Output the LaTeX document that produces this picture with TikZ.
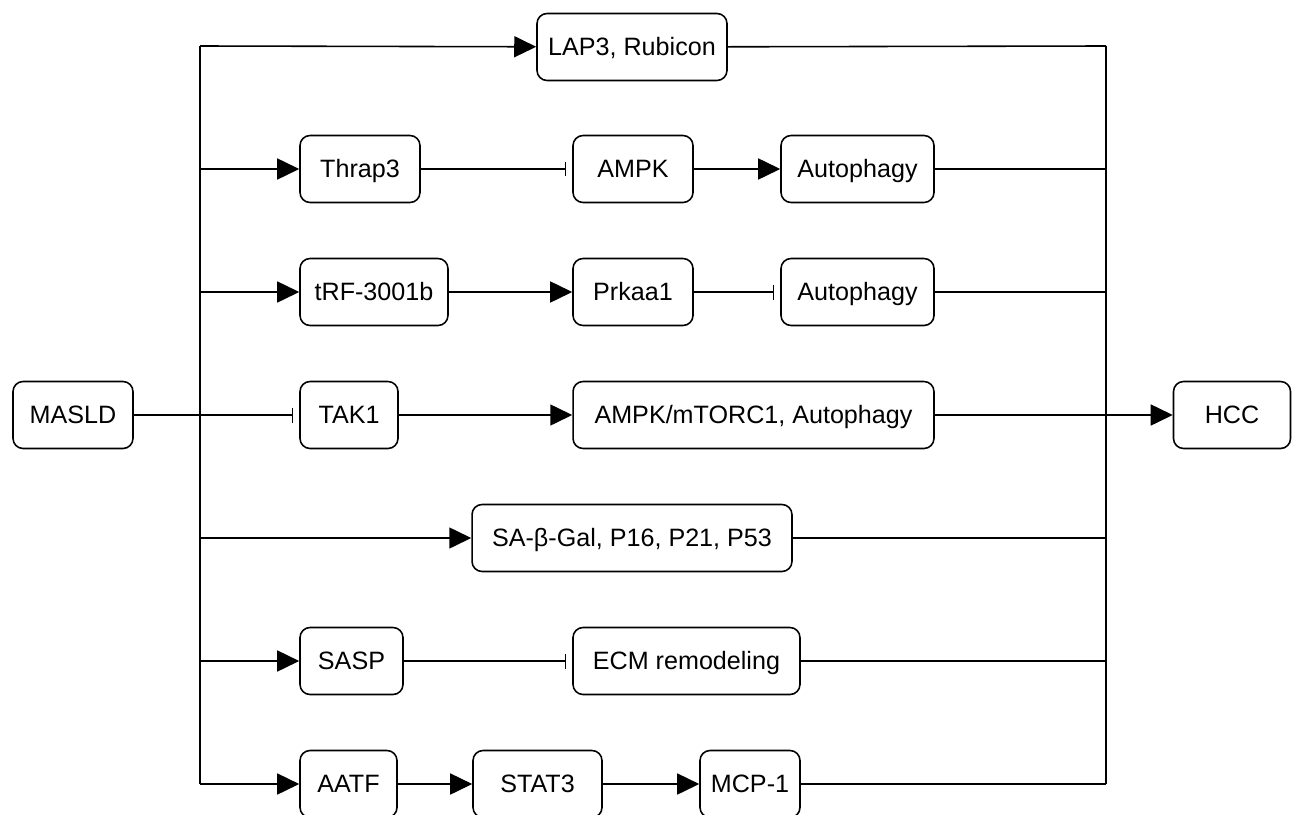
\documentclass[tikz,border=0pt]{standalone}
\usepackage{fontspec}
\setmainfont{Liberation Sans}
\usepackage{tikz}
\usetikzlibrary{positioning,arrows.meta}

\begin{document}
\begin{tikzpicture}[x=0.02cm,y=-0.02cm,line width=0.9pt,
    box/.style={draw,rounded corners=0.2cm,minimum height=1.34cm,inner sep=0pt,text height=12pt,text depth=1.8pt,font=\fontsize{14.3}{16}\selectfont},
    act/.style={-{Triangle[length=0.44cm,width=0.42cm]}},
    inh/.style={-{Bar[width=0.3cm]},shorten >=0.12cm}]
              \useasboundingbox (0,0) rectangle (1293,814);

              \node[box,minimum width=2.4cm] (masld) at (73,415) {MASLD};
              \node[box,minimum width=2.34cm] (hcc) at (1232,415) {HCC};

              % bus points
              \foreach \i/\y in {1/46,2/169,3/292,4/415,5/538,6/661,7/784} {
                \coordinate (l\i) at (200,\y);
                \coordinate (r\i) at (1106,\y);
              }

              \node[box,minimum width=3.8cm] (lap) at (632,47) {LAP3, Rubicon};
              \node[box,minimum width=2.4cm] (thrap) at (360,169) {Thrap3};
              \node[box,minimum width=2.4cm] (ampk) at (633,169) {AMPK};
              \node[box,minimum width=3.06cm] (auto1) at (857.5,169) {Autophagy};
              \node[box,minimum width=2.96cm] (trf) at (374,292) {tRF-3001b};
              \node[box,minimum width=2.4cm] (prkaa) at (633,292) {Prkaa1};
              \node[box,minimum width=3.06cm] (auto2) at (857.5,292) {Autophagy};
              \node[box,minimum width=1.96cm] (tak) at (349,415) {TAK1};
              \node[box,minimum width=7.22cm] (mtor) at (753.5,415) {AMPK/mTORC1, Autophagy};
              \node[box,minimum width=6.4cm] (sa) at (632,538) {SA-β-Gal, P16, P21, P53};
              \node[box,minimum width=2.06cm] (sasp) at (351.5,661) {SASP};
              \node[box,minimum width=4.54cm] (ecm) at (686.5,661) {ECM remodeling};
              \node[box,minimum width=1.94cm] (aatf) at (348.5,784) {AATF};
              \node[box,minimum width=2.58cm] (stat) at (537.5,784) {STAT3};
              \node[box,minimum width=2.0cm] (mcp) at (750,784) {MCP-1};

              %buses
              \draw (l1) -- (l7);
              \draw (r1) -- (r7);

              %left side
              \draw[act] (l1) -- (lap);
              \draw[act] (l2) -- (thrap);
              \draw[act] (l3) -- (trf);
              \draw[inh] (masld) -- (tak);
              \draw[act] (l5) -- (sa);
              \draw[act] (l6) -- (sasp);
              \draw[act] (l7) -- (aatf);

              %middle
              \draw[inh] (thrap) -- (ampk);
              \draw[act] (ampk) -- (auto1);
              \draw[act] (trf) -- (prkaa);
              \draw[inh] (prkaa) -- (auto2);
              \draw[act] (tak) -- (mtor);
              \draw[inh] (sasp) -- (ecm);
              \draw[act] (aatf) -- (stat);
              \draw[act] (stat) -- (mcp);

              %right side
              \draw (lap) -- (r1);
              \draw (auto1) -- (r2);
              \draw (auto2) -- (r3);
              \draw[act] (mtor) -- (hcc);
              \draw (sa) -- (r5);
              \draw (ecm) -- (r6);
              \draw (mcp) -- (r7);
\end{tikzpicture}
\end{document}
